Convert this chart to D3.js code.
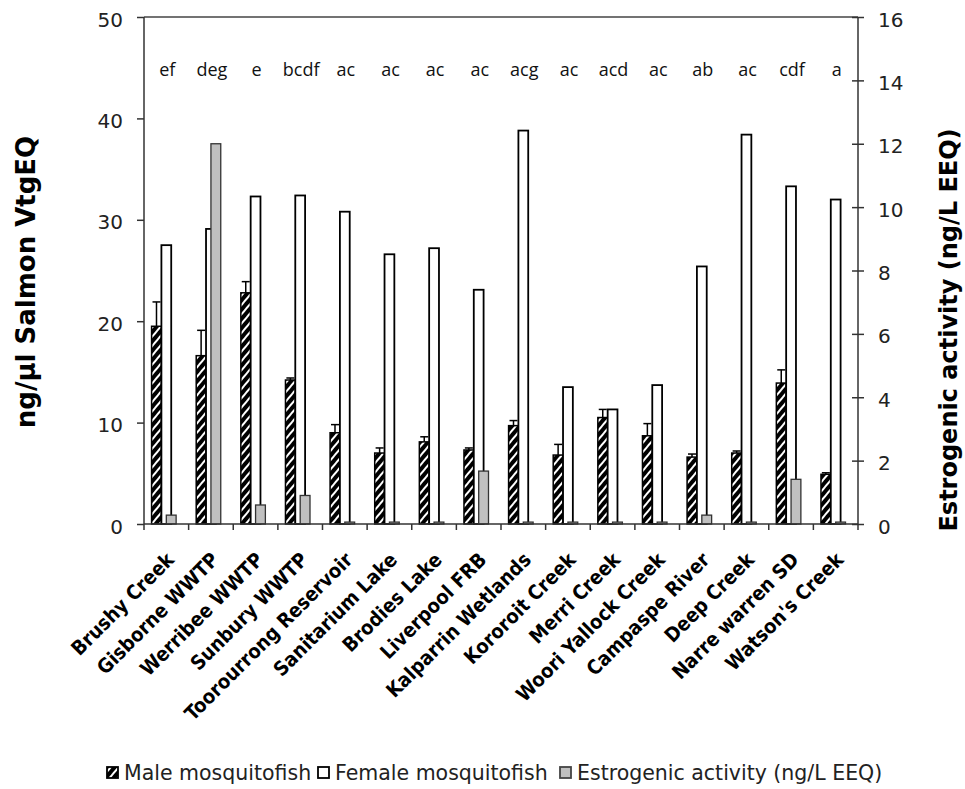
<!DOCTYPE html>
<html>
<head>
<meta charset="utf-8">
<script src="https://cdn.jsdelivr.net/npm/d3@7"></script>
<style>
  body { margin: 0; background: #fff; }
  svg { display: block; }
</style>
</head>
<body>
<div id="chart"></div>
<script>
(function () {

  // Data
  const sites = ["Brushy Creek", "Gisborne WWTP", "Werribee WWTP", "Sunbury WWTP",
    "Toorourrong Reservoir", "Sanitarium Lake", "Brodies Lake", "Liverpool FRB",
    "Kalparrin Wetlands", "Kororoit Creek", "Merri Creek", "Woori Yallock Creek",
    "Campaspe River", "Deep Creek", "Narre warren SD", "Watson's Creek"]
  const maleValues = [19.5, 16.6, 22.8, 14.2, 9.0, 7.0, 8.1, 7.3, 9.7, 6.8, 10.5, 8.7, 6.6, 7.0, 13.9, 4.9]
  const maleErrors = [2.4, 2.5, 1.1, 0.2, 0.8, 0.5, 0.5, 0.2, 0.5, 1.05, 0.8, 1.2, 0.3, 0.2, 1.3, 0.15]
  const femaleValues = [27.5, 29.1, 32.3, 32.4, 30.8, 26.6, 27.2, 23.1, 38.8, 13.5, 11.3, 13.7, 25.4, 38.4, 33.3, 32.0]
  const estrogenValues = [0.28, 12.0, 0.6, 0.9, 0.06, 0.06, 0.06, 1.67, 0.06, 0.06, 0.06, 0.06, 0.28, 0.06, 1.41, 0.06]
  const groupLetters = ["ef", "deg", "e", "bcdf", "ac", "ac", "ac", "ac", "acg", "ac", "acd", "ac", "ab", "ac", "cdf", "a"]
  const leftTicks = [0, 10, 20, 30, 40, 50]
  const rightTicks = [0, 2, 4, 6, 8, 10, 12, 14, 16]
  const legendItems = ["Male mosquitofish", "Female mosquitofish", "Estrogenic activity (ng/L EEQ)"]

  const data = sites.map((s, i) => ({
    site: s, male: maleValues[i], err: maleErrors[i],
    female: femaleValues[i], estro: estrogenValues[i], letters: groupLetters[i]
  }))

  const W = 965, H = 789
  const plot = { left: 144, right: 858, top: 17, bottom: 524 }

  const svg = d3.select("#chart").append("svg")
    .attr("width", W).attr("height", H)

  svg.append("rect").attr("width", W).attr("height", H).attr("fill", "#fff")

  const defs = svg.append("defs")
  const pat = defs.append("pattern")
    .attr("id", "hatch")
    .attr("patternUnits", "userSpaceOnUse")
    .attr("width", 6).attr("height", 6)
    .attr("patternTransform", "rotate(40)")
  pat.append("rect").attr("width", 6).attr("height", 6).attr("fill", "#000")
  pat.append("rect").attr("x", 2).attr("width", 2).attr("height", 6).attr("fill", "#fff")

  // scales
  const x = d3.scaleBand().domain(sites).range([plot.left, plot.right]).padding(0)
  const yL = d3.scaleLinear().domain([0, 50]).range([plot.bottom, plot.top])
  const yR = d3.scaleLinear().domain([0, 16]).range([plot.bottom, plot.top])
  const bw = x.bandwidth() * 0.22
  const cx = d => x(d.site) + x.bandwidth() / 2

  // plot frame top
  svg.append("line")
    .attr("x1", plot.left).attr("x2", plot.right)
    .attr("y1", plot.top).attr("y2", plot.top)
    .attr("stroke", "#444").attr("stroke-width", 1.5)

  // male bars
  svg.selectAll(".male")
    .data(data)
    .join("rect")
    .attr("class", "male")
    .attr("x", d => cx(d) - 1.5 * bw)
    .attr("y", d => yL(d.male))
    .attr("width", bw)
    .attr("height", d => yL(0) - yL(d.male))
    .attr("fill", "url(#hatch)")
    .attr("stroke", "#000")
    .attr("stroke-width", 1.5)

  // error bars (plus only)
  const eb = svg.append("g").attr("stroke", "#000").attr("stroke-width", 1.5)
  eb.selectAll(".ev")
    .data(data)
    .join("line")
    .attr("x1", d => cx(d) - bw).attr("x2", d => cx(d) - bw)
    .attr("y1", d => yL(d.male)).attr("y2", d => yL(d.male + d.err))
  eb.selectAll(".ec")
    .data(data)
    .join("line")
    .attr("x1", d => cx(d) - bw - 4).attr("x2", d => cx(d) - bw + 4)
    .attr("y1", d => yL(d.male + d.err)).attr("y2", d => yL(d.male + d.err))

  // female bars
  svg.selectAll(".female")
    .data(data)
    .join("rect")
    .attr("class", "female")
    .attr("x", d => cx(d) - 0.5 * bw)
    .attr("y", d => yL(d.female))
    .attr("width", bw)
    .attr("height", d => yL(0) - yL(d.female))
    .attr("fill", "#fff")
    .attr("stroke", "#000")
    .attr("stroke-width", 1.8)

  // estrogenic activity (secondary axis)
  svg.selectAll(".estro")
    .data(data)
    .join("rect")
    .attr("class", "estro")
    .attr("x", d => cx(d))
    .attr("y", d => yR(d.estro))
    .attr("width", bw)
    .attr("height", d => yR(0) - yR(d.estro))
    .attr("fill", "#c0c0c0")
    .attr("stroke", "#333")
    .attr("stroke-width", 1.3)

  // axes
  const axL = svg.append("g")
    .attr("transform", `translate(${plot.left},0)`)
    .call(d3.axisLeft(yL).tickValues(leftTicks).tickSize(7).tickPadding(14))
  const axR = svg.append("g")
    .attr("transform", `translate(${plot.right},0)`)
    .call(d3.axisRight(yR).tickValues(rightTicks).tickSize(6).tickPadding(14))
  axR.selectAll(".tick line").attr("x1", -6)
  ;[axL, axR].forEach(a => {
    a.selectAll("path, line").attr("stroke", "#333").attr("stroke-width", 1.5)
    a.selectAll("text")
      .attr("font-family", "DejaVu Sans")
      .attr("font-size", 20)
      .attr("fill", "#222")
      .attr("dy", "0.45em")
  })
  axL.select(".domain").attr("d", `M0,${plot.bottom}V${plot.top}`)
  axR.select(".domain").attr("d", `M0,${plot.bottom}V${plot.top}`)

  // category axis
  const bottom = svg.append("g")
  bottom.append("line")
    .attr("x1", plot.left).attr("x2", plot.right)
    .attr("y1", plot.bottom).attr("y2", plot.bottom)
    .attr("stroke", "#333").attr("stroke-width", 1.5)
  bottom.selectAll(".xt")
    .data(sites.concat(["_end"]))
    .join("line")
    .attr("x1", (d, i) => plot.left + i * x.step())
    .attr("x2", (d, i) => plot.left + i * x.step())
    .attr("y1", plot.bottom).attr("y2", plot.bottom + 6)
    .attr("stroke", "#333").attr("stroke-width", 1.5)
  bottom.selectAll(".xl")
    .data(data)
    .join("text")
    .attr("transform", d => `translate(${cx(d) + 9},${plot.bottom + 37}) rotate(-45)`)
    .attr("text-anchor", "end")
    .attr("font-family", "DejaVu Sans Condensed, DejaVu Sans")
    .attr("font-stretch", "condensed")
    .attr("font-weight", "bold")
    .attr("font-size", 20)
    .attr("fill", "#000")
    .text(d => d.site)

  // significance letters
  svg.selectAll(".lt")
    .data(data)
    .join("text")
    .attr("x", d => cx(d) + 1)
    .attr("y", 76)
    .attr("text-anchor", "middle")
    .attr("font-family", "Open Sans")
    .attr("font-size", 18)
    .attr("fill", "#111")
    .text(d => d.letters)

  // axis titles
  svg.append("text")
    .attr("transform", "translate(35,282) rotate(-90)")
    .attr("text-anchor", "middle")
    .attr("font-family", "DejaVu Sans")
    .attr("font-weight", "bold")
    .attr("font-size", 26)
    .text("ng/µl Salmon VtgEQ")
  svg.append("text")
    .attr("transform", "translate(957,330) rotate(-90)")
    .attr("text-anchor", "middle")
    .attr("font-family", "DejaVu Sans")
    .attr("font-weight", "bold")
    .attr("font-size", 24)
    .text("Estrogenic activity (ng/L EEQ)")

  // legend
  const legendX = [107, 318, 560]
  const legendFill = ["url(#hatch)", "#fff", "#c0c0c0"]
  const lg = svg.selectAll(".lg")
    .data(legendItems)
    .join("g")
    .attr("transform", (d, i) => `translate(${legendX[i]},767)`)
  lg.append("rect")
    .attr("width", 11).attr("height", 11)
    .attr("fill", (d, i) => legendFill[i])
    .attr("stroke", (d, i) => i === 2 ? "#444" : "#000")
    .attr("stroke-width", 1.8)
  lg.append("text")
    .attr("x", 17).attr("y", 13)
    .attr("font-family", "DejaVu Sans")
    .attr("font-size", 20.5)
    .attr("fill", "#222")
    .text(d => d)

})();
</script>
</body>
</html>
